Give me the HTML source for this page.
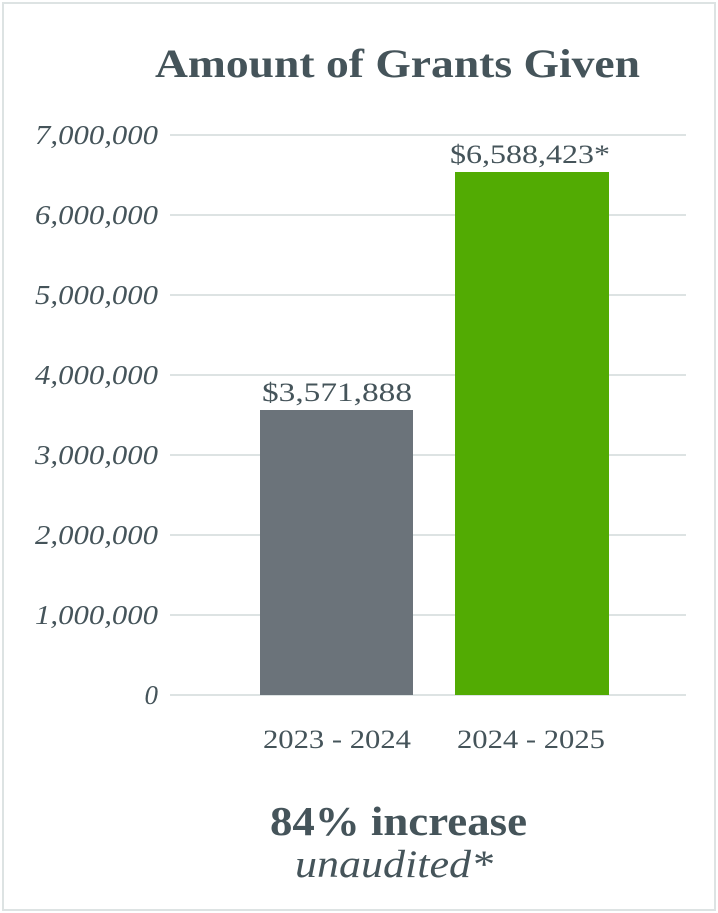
<!DOCTYPE html>
<html><head><style>
body{margin:0;background:#fff;}
svg{display:block;}
text{font-family:"Liberation Serif","DejaVu Serif",serif;fill:#45545a;}
</style></head><body>
<svg width="718" height="913" xmlns="http://www.w3.org/2000/svg">
<rect x="3" y="3" width="712" height="907" fill="#fff" stroke="#dde3e3" stroke-width="2"/>
<text x="155" y="77" font-size="40" font-weight="bold" textLength="485" lengthAdjust="spacingAndGlyphs">Amount of Grants Given</text>
<g stroke="#dde3e3" stroke-width="2">
<line x1="170" x2="686" y1="135" y2="135"/>
<line x1="170" x2="686" y1="215" y2="215"/>
<line x1="170" x2="686" y1="295" y2="295"/>
<line x1="170" x2="686" y1="375" y2="375"/>
<line x1="170" x2="686" y1="455" y2="455"/>
<line x1="170" x2="686" y1="535" y2="535"/>
<line x1="170" x2="686" y1="615" y2="615"/>
<line x1="170" x2="686" y1="695" y2="695"/>
</g>
<g font-size="27" font-style="italic">
<text x="35" y="144" textLength="123" lengthAdjust="spacingAndGlyphs">7,000,000</text>
<text x="35" y="224" textLength="123" lengthAdjust="spacingAndGlyphs">6,000,000</text>
<text x="35" y="304" textLength="123" lengthAdjust="spacingAndGlyphs">5,000,000</text>
<text x="35" y="384" textLength="123" lengthAdjust="spacingAndGlyphs">4,000,000</text>
<text x="35" y="464" textLength="123" lengthAdjust="spacingAndGlyphs">3,000,000</text>
<text x="35" y="544" textLength="123" lengthAdjust="spacingAndGlyphs">2,000,000</text>
<text x="35" y="624" textLength="123" lengthAdjust="spacingAndGlyphs">1,000,000</text>
<text x="158" y="704" text-anchor="end">0</text>
</g>
<rect x="260" y="410" width="153" height="285" fill="#6b737a"/>
<rect x="455" y="172" width="154" height="523" fill="#52ab03"/>
<g font-size="26">
<text x="262" y="401" textLength="150" lengthAdjust="spacingAndGlyphs">$3,571,888</text>
<text x="450" y="163" textLength="160" lengthAdjust="spacingAndGlyphs">$6,588,423*</text>
<text x="263" y="748" textLength="148" lengthAdjust="spacingAndGlyphs">2023 - 2024</text>
<text x="457" y="748" textLength="148" lengthAdjust="spacingAndGlyphs">2024 - 2025</text>
</g>
<text x="270" y="835" font-size="41" font-weight="bold" textLength="257" lengthAdjust="spacingAndGlyphs">84% increase</text>
<text x="295" y="877" font-size="39" font-style="italic" textLength="198" lengthAdjust="spacingAndGlyphs">unaudited*</text>
</svg>
</body></html>
